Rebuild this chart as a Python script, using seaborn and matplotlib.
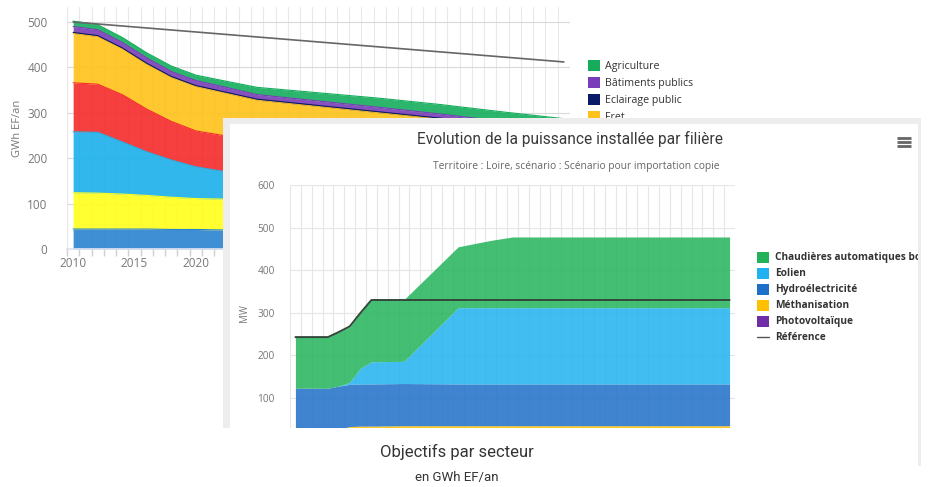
import matplotlib
matplotlib.use("Agg")
import matplotlib.pyplot as plt
from matplotlib.patches import Rectangle, Patch
import numpy as np
import seaborn as sns

sns.set_theme(style="white")
plt.rcParams["font.family"] = ["Open Sans", "DejaVu Sans"]

# ---------------------------------------------------------------------------
# Back chart: objectives per sector (GWh EF/an), legend order = top of stack first
# ---------------------------------------------------------------------------
sect_years = [2010, 2012, 2014, 2016, 2018, 2020, 2022, 2025, 2030, 2035, 2040, 2045, 2050]
sect_names = ["Agriculture", "Bâtiments publics", "Eclairage public", "Fret",
              "Industrie", "Résidentiel", "Tertiaire", "Transport de personnes"]
agriculture = [12, 11, 11, 11, 12, 12, 13, 16, 18, 20, 21, 21, 21]
batiments = [13, 13, 12, 12, 11, 11, 11, 10, 10, 10, 9, 9, 9]
eclairage = [2, 2, 2, 2, 2, 2, 2, 2, 2, 2, 1.5, 1.5, 1.5]
fret = [109, 105, 101, 99, 97, 98, 95, 88, 86, 82, 78.5, 72.5, 67.5]
industrie = [108, 106, 104, 94, 85, 79, 79, 75, 72, 69, 65, 61, 56]
residentiel = [134, 134, 115, 96, 82, 70, 62, 57, 52, 49, 46, 43, 40]
tertiaire = [80, 79, 77, 74, 71, 68, 68, 67, 64, 61, 59, 57, 56]
transport = [44, 44, 44, 44, 43, 43, 42, 41, 40, 39, 38, 37, 36]
sect_colors = ["#15ad5c", "#7a3db8", "#0a1a66", "#ffc21a",
               "#f52a2a", "#1ab0ea", "#ffff1a", "#2a83d0"]
sect_ref_years = [2010, 2050]
sect_ref = [500, 412]
sect_tick_years = [2010, 2015, 2020]  # later labels sit behind the front panel
n_visible_legend = 4  # the rest of this legend is hidden behind the front panel

# ---------------------------------------------------------------------------
# Front chart: installed power per sector (MW)
# ---------------------------------------------------------------------------
pow_years = [2010, 2013, 2014, 2015, 2016, 2017, 2020, 2025, 2028, 2030, 2050]
pow_names = ["Chaudières automatiques bois", "Eolien", "Hydroélectricité",
             "Méthanisation", "Photovoltaïque"]
chaudieres = [120, 120, 127, 130, 130, 145, 145, 143, 158, 166, 166]
eolien = [0, 0, 0, 5, 37, 52, 52, 179, 179, 179, 179]
hydro = [108, 105, 102, 99, 99, 99, 99, 98, 98, 98, 98]
methanisation = [10, 10, 12, 13, 13, 13, 13, 13, 13, 13, 13]
photovoltaique = [5, 8, 14, 20, 21, 21, 22, 22, 22, 22, 22]
pow_ref = [243, 243, 255, 268, 300, 330, 330, 330, 330, 330, 330]
pow_colors = ["#22b35a", "#20b2f0", "#1e6fc8", "#ffc000", "#6f2da8"]

W, H = 932, 487


def fig_box(x0, y0, x1, y1):
    """Pixel box (top-left origin) -> figure fraction rect."""
    return [x0 / W, 1 - y1 / H, (x1 - x0) / W, (y1 - y0) / H]


fig = plt.figure(figsize=(W / 100, H / 100), dpi=100)
fig.patch.set_facecolor("white")

# ---- back chart ------------------------------------------------------------
ax1 = fig.add_axes(fig_box(67, 7, 570, 249), zorder=1)
stack1 = [transport, tertiaire, residentiel, industrie, fret, eclairage, batiments, agriculture]
cols1 = sect_colors[::-1]
ax1.stackplot(sect_years, *stack1, colors=cols1, alpha=0.9, linewidth=0, zorder=2)
tops = np.cumsum(np.array(stack1, dtype=float), axis=0)
for top, c in zip(tops, cols1):
    ax1.plot(sect_years, top, color=c, lw=0.8, zorder=3)
sns.lineplot(x=sect_ref_years, y=sect_ref, ax=ax1, color="#666666", lw=1.2, zorder=4)

ax1.set_xlim(2009.5, 2050.5)
ax1.set_ylim(0, 533)
ax1.set_yticks(range(0, 501, 100))
ax1.set_xticks(sect_tick_years)
ax1.set_xticks(np.arange(2009.5, 2051, 1), minor=True)
ax1.grid(axis="y", which="major", color="#d9d9d9", lw=0.8)
ax1.grid(axis="x", which="minor", color="#e8e8e8", lw=0.8)
ax1.set_axisbelow(True)
for s in ["top", "right", "left"]:
    ax1.spines[s].set_visible(False)
ax1.spines["bottom"].set_color("#dde3ee")
ax1.tick_params(axis="x", which="major", length=0, labelsize=8.5, labelcolor="#777777", pad=6)
ax1.tick_params(axis="x", which="minor", length=5, color="#d0d0d0", bottom=True)
ax1.tick_params(axis="y", length=0, labelsize=8.5, labelcolor="#777777", pad=14)
ax1.set_ylabel("GWh EF/an", fontsize=8, color="#777777", labelpad=3)

handles1 = [Patch(facecolor=c, edgecolor="none") for c in sect_colors[:n_visible_legend]]
ax1.legend(handles1, sect_names[:n_visible_legend], loc="upper left",
           bbox_to_anchor=(588 / W, 1 - 60 / H),
           bbox_transform=fig.transFigure, frameon=False, fontsize=7.7,
           handlelength=1.1, handleheight=1.15, labelspacing=0.48, handletextpad=0.45,
           borderaxespad=0, borderpad=0, labelcolor="#333333")

# ---- front panel frame -----------------------------------------------------
ov = fig.add_axes([0, 0, 1, 1], zorder=2)
ov.set_xlim(0, W)
ov.set_ylim(H, 0)
ov.axis("off")
ov.patch.set_alpha(0)
ov.add_patch(Rectangle((223, 118), 698, 348, facecolor="#ededed", edgecolor="none"))
ov.add_patch(Rectangle((230, 124), 688, 342, facecolor="white", edgecolor="none"))

# ---- front chart -----------------------------------------------------------
ax2 = fig.add_axes(fig_box(290, 185, 735, 440.6), zorder=3)
ax2.patch.set_alpha(0)
stack2 = [photovoltaique, methanisation, hydro, eolien, chaudieres]
cols2 = pow_colors[::-1]
ax2.stackplot(pow_years, *stack2, colors=cols2, alpha=0.85, linewidth=0, zorder=2)
sns.lineplot(x=pow_years, y=pow_ref, ax=ax2, color="#33473b", lw=1.4, zorder=4)
ax2.set_xlim(2009.5, 2050.5)
ax2.set_ylim(0, 600)
ax2.set_yticks(range(0, 601, 100))
ax2.set_xticks(np.arange(2009.5, 2051, 1))
ax2.set_xticklabels([])
ax2.grid(axis="both", color="#e6e6e6", lw=0.8)
ax2.set_axisbelow(True)
for s in ax2.spines.values():
    s.set_visible(False)
ax2.tick_params(axis="both", length=0)
ax2.tick_params(axis="y", labelsize=7.3, labelcolor="#777777", pad=11)
ax2.set_ylabel("MW", fontsize=7, color="#777777")
ax2.yaxis.set_label_coords((250 - 290) / 445, (440.6 - 313) / 255.6)

# ---- front panel texts / legend (clipped to the panel) ---------------------
pan = fig.add_axes(fig_box(230, 124, 918, 466), zorder=4)
pan.set_xlim(230, 918)
pan.set_ylim(466, 124)
pan.axis("off")
pan.patch.set_alpha(0)
title_fonts = ["Liberation Sans Narrow", "Roboto", "DejaVu Sans"]
pan.text(570, 139, "Evolution de la puissance installée par filière", ha="center",
         va="center", fontsize=11.2, color="#3a3a3a", family=title_fonts)
pan.text(576, 166, "Territoire : Loire, scénario : Scénario pour importation copie",
         ha="center", va="center", fontsize=7.4, color="#666666")
for yy in (138, 142, 146):
    pan.plot([897, 911], [yy, yy], color="#666666", lw=2, solid_capstyle="butt")

leg_y = 257
for name, c in zip(pow_names, pow_colors):
    pan.add_patch(Rectangle((757, leg_y - 5.5), 12, 11, facecolor=c, edgecolor="none"))
    pan.text(775, leg_y, name, ha="left", va="center", fontsize=7.3, fontweight="bold",
             color="#333333", clip_on=True)
    leg_y += 16
pan.plot([757, 769], [leg_y, leg_y], color="#555555", lw=1)
pan.text(775, leg_y, "Référence", ha="left", va="center", fontsize=7.3,
         fontweight="bold", color="#333333", clip_on=True)

# ---- bottom panel (third screenshot) ---------------------------------------
cov = fig.add_axes([0, 0, 1, 1], zorder=5)
cov.set_xlim(0, W)
cov.set_ylim(H, 0)
cov.axis("off")
cov.patch.set_alpha(0)
cov.add_patch(Rectangle((0, 428), 916, 60, facecolor="white", edgecolor="none"))
cov.text(457, 452, "Objectifs par secteur", ha="center", va="center", fontsize=12,
         color="#333333", family=title_fonts)
cov.text(457, 478, "en GWh EF/an", ha="center", va="center", fontsize=9.5,
         color="#333333", family=title_fonts)

fig.savefig("out.png", dpi=100)
